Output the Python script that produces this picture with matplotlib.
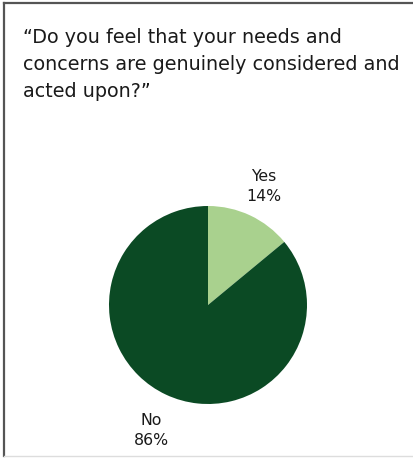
import matplotlib
matplotlib.use("Agg")
import matplotlib.pyplot as plt
from matplotlib.lines import Line2D

labels = ["Yes", "No"]
values = [14, 86]
colors = ["#a9d18e", "#0b4a24"]
title = "\u201cDo you feel that your needs and\nconcerns are genuinely considered and\nacted upon?\u201d"

plt.rcParams['font.family'] = ['DejaVu Sans']

W, H = 413, 461
fig = plt.figure(figsize=(W/100, H/100), dpi=100)
fig.patch.set_facecolor("white")

# frame lines
fig.add_artist(Line2D([4/W, 4/W], [1 - 3/H, 1 - 456/H], color="#555555", lw=1.6, transform=fig.transFigure))
fig.add_artist(Line2D([4/W, 1], [1 - 3/H, 1 - 3/H], color="#555555", lw=1.6, transform=fig.transFigure))
fig.add_artist(Line2D([4/W, 1], [1 - 456/H, 1 - 456/H], color="#dddddd", lw=1.0, transform=fig.transFigure))

fig.text(23/W, 1 - 97/H, title, ha="left", va="baseline", fontsize=13.8, color="#1a1a1a", linespacing=1.55)

cx, cy, r = 208, 305, 99
ax = fig.add_axes([(cx - r)/W, 1 - (cy + r)/H, 2*r/W, 2*r/H])
ax.pie(values, colors=colors, startangle=90, counterclock=False,
       wedgeprops=dict(linewidth=0))
ax.set_xlim(-1, 1)
ax.set_ylim(-1, 1)
ax.set_aspect("equal")
ax.axis("off")

pos = {"Yes": (264, 201), "No": (151, 445)}
for lab, v in zip(labels, values):
    x, y = pos[lab]
    fig.text(x/W, 1 - y/H, f"{lab}\n{v}%", ha="center", va="baseline", fontsize=11.3,
             color="#1a1a1a", linespacing=1.45)

fig.savefig("out.png", dpi=100, facecolor="white")
